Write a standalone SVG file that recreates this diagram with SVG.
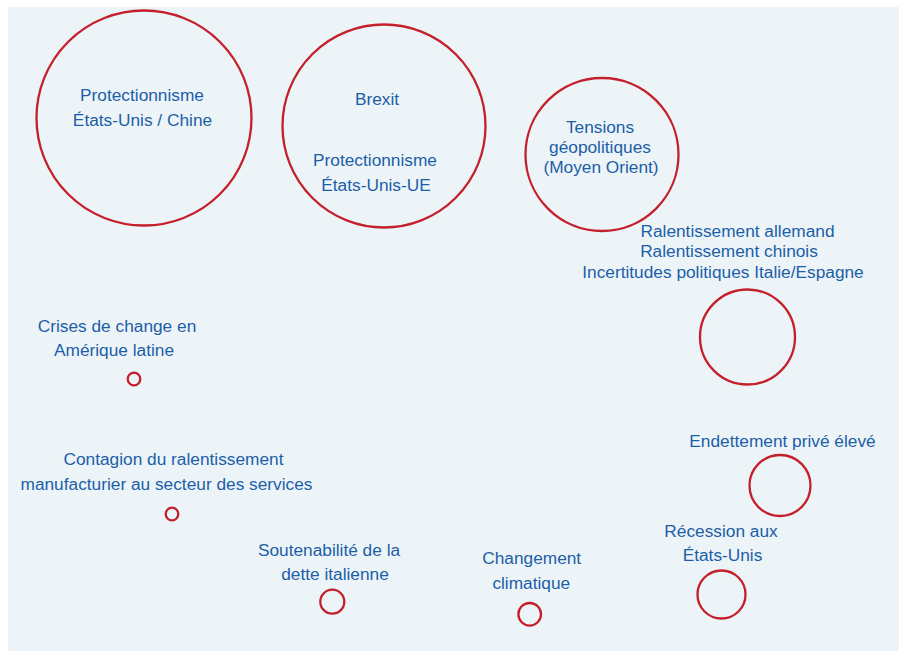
<svg xmlns="http://www.w3.org/2000/svg" width="899" height="651" viewBox="0 0 899 651">
<style>
.bg{fill:#edf4f8}
.c{fill:none;stroke:#c4202b;stroke-width:2.3}
.t{font-family:"Liberation Sans",Arial,sans-serif;font-size:17.3px;fill:#1c5ea8;text-anchor:middle}
</style>
<rect x="0" y="0" width="899" height="651" fill="#ffffff"/>
<rect class="bg" x="8" y="7" width="891" height="644"/>
<g id="n1"><circle class="c" cx="144" cy="118" r="107.5"/><text class="t" x="142" y="101">Protectionnisme</text><text class="t" x="142.5" y="126">États-Unis / Chine</text></g>
<g id="n2"><circle class="c" cx="384" cy="126" r="101.5"/><text class="t" x="377" y="105">Brexit</text><text class="t" x="375" y="166">Protectionnisme</text><text class="t" x="376" y="191">États-Unis-UE</text></g>
<g id="n3"><circle class="c" cx="602" cy="154.5" r="76.5"/><text class="t" x="600" y="133">Tensions</text><text class="t" x="600" y="153">géopolitiques</text><text class="t" x="601" y="173">(Moyen Orient)</text></g>
<g id="n4"><circle class="c" cx="747.5" cy="337" r="47.5"/><text class="t" x="737.5" y="237">Ralentissement allemand</text><text class="t" x="729" y="257">Ralentissement chinois</text><text class="t" x="723" y="278">Incertitudes politiques Italie/Espagne</text></g>
<g id="n5"><circle class="c" cx="780" cy="485.5" r="30.5"/><text class="t" x="782.5" y="447">Endettement privé élevé</text></g>
<g id="n6"><circle class="c" cx="721.5" cy="594.5" r="24"/><text class="t" x="721" y="537">Récession aux</text><text class="t" x="722.5" y="561">États-Unis</text></g>
<g id="n7"><circle class="c" cx="134" cy="379" r="6.3"/><text class="t" x="117" y="332">Crises de change en</text><text class="t" x="114" y="356">Amérique latine</text></g>
<g id="n8"><circle class="c" cx="172" cy="514" r="6.3"/><text class="t" x="173.5" y="465">Contagion du ralentissement</text><text class="t" x="166.5" y="490">manufacturier au secteur des services</text></g>
<g id="n9"><circle class="c" cx="332.3" cy="601.7" r="12"/><text class="t" x="329" y="556">Soutenabilité de la</text><text class="t" x="335" y="580">dette italienne</text></g>
<g id="n10"><circle class="c" cx="529.7" cy="614.3" r="11.3"/><text class="t" x="531.7" y="564">Changement</text><text class="t" x="531.3" y="589">climatique</text></g>
<g id="connectors"></g>
</svg>
